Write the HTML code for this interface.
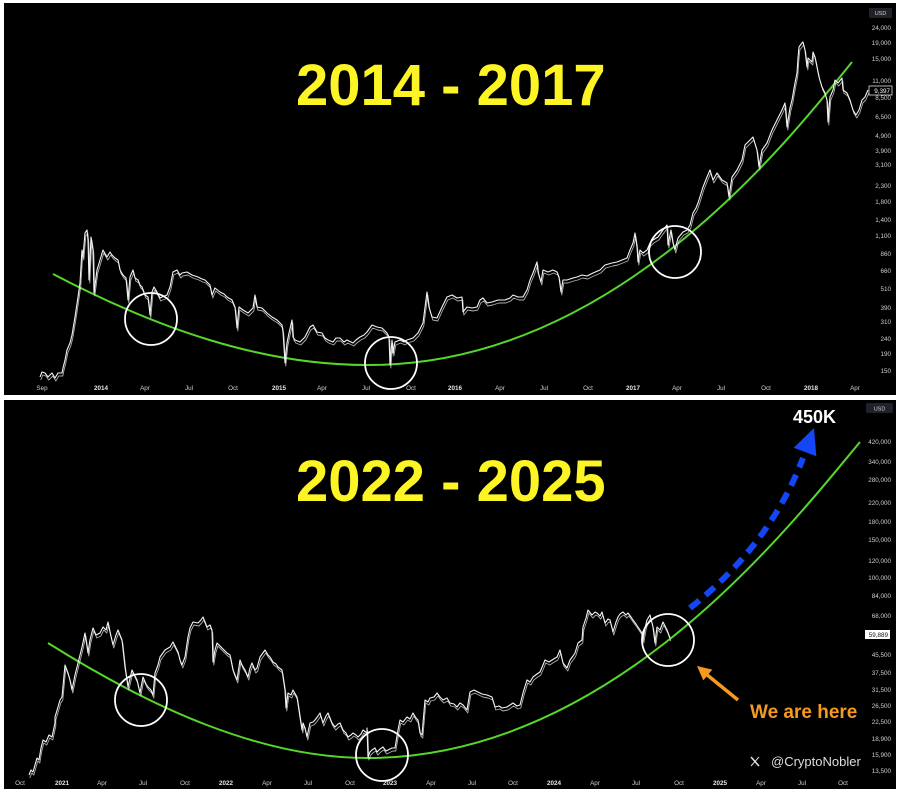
<!DOCTYPE html>
<html><head><meta charset="utf-8"><style>
html,body{margin:0;padding:0;background:#fff;}
svg{display:block;}
.ax{font-family:"Liberation Sans",sans-serif;font-size:6.3px;fill:#cfcfcf;}
.xb{font-weight:bold;fill:#e6e6e6;}
.ttl{font-family:"Liberation Sans",sans-serif;font-weight:bold;font-size:58px;fill:#fcf424;}
</style></head><body>
<svg width="900" height="796" viewBox="0 0 900 796" xmlns="http://www.w3.org/2000/svg" xmlns:xlink="http://www.w3.org/1999/xlink">
<defs>
<polyline id="p1" fill="none" stroke-linejoin="round" points="40,377 42,372 45,373 48,377 52,373 55,378 58,373 62,373 63,368 65,360 67,350 70,343 72,335 75,317 78,297 80,283 82,250 83,257 85,233 87,230 88,240 89,280 91,237 93,250 94,293 97,270 100,260 103,250 107,257 110,252 112,255 115,258 118,260 120,270 123,275 126,278 128,300 130,277 133,270 135,278 138,280 140,285 142,287 145,295 148,297 150,315 152,292 154,287 157,292 160,298 162,297 167,295 170,287 173,272 177,270 180,275 182,273 187,272 192,275 198,277 202,279 205,280 210,285 212,295 215,288 220,292 224,294 227,297 232,300 235,307 237,328 239,307 243,310 248,313 253,308 255,295 257,307 262,308 267,313 272,317 277,320 282,325 283,332 284,347 285,363 287,343 289,333 292,320 293,337 295,340 300,342 305,337 310,327 313,325 317,332 322,333 325,338 328,340 333,342 336,338 340,338 344,342 347,340 353,343 356,340 360,337 364,335 367,332 372,325 377,327 382,328 387,333 389,337 390,365 392,340 393,353 395,342 400,340 404,342 407,340 413,338 418,333 423,323 427,292 429,307 432,317 437,318 442,307 447,297 452,295 457,298 462,297 463,312 467,307 472,308 477,307 480,300 483,298 487,303 492,302 498,300 505,300 510,298 513,295 518,297 523,297 527,290 530,280 533,273 537,262 538,272 541,282 543,270 548,272 553,270 557,272 559,277 561,292 563,280 567,280 573,278 577,277 582,275 587,276 593,273 600,270 605,265 612,263 617,262 622,260 627,258 630,250 633,243 635,233 637,247 638,262 640,250 643,253 647,250 650,243 653,240 658,237 663,230 667,225 668,245 671,230 673,243 675,250 678,238 683,232 687,230 690,225 693,213 696,208 698,203 703,187 707,177 710,170 713,180 717,173 722,180 727,183 729,197 732,177 737,170 742,160 745,145 750,140 753,137 757,150 759,167 762,150 767,143 772,130 777,120 782,110 785,103 787,127 790,108 792,100 795,83 797,73 798,58 799,47 802,43 803,42 805,50 807,67 808,58 812,62 813,52 815,57 817,67 819,77 822,87 825,93 827,100 828,122 830,97 833,90 835,80 838,83 842,78 843,90 847,93 850,100 853,110 856,115 859,110 862,100 865,97 868,90"/>
<polyline id="p2" fill="none" stroke-linejoin="round" points="29,775 31,770 33,772 35,765 37,758 39,760 41,748 43,740 46,742 49,735 52,737 55,723 55,717 58,707 60,700 62,697 65,665 68,673 70,680 72,690 75,675 77,667 80,655 82,647 85,633 88,653 90,640 93,628 96,635 100,633 103,627 106,630 108,622 110,632 113,645 116,635 118,630 122,640 125,667 128,687 132,670 135,676 137,680 140,693 143,677 146,684 148,687 151,690 153,695 155,673 158,665 160,657 165,650 170,647 173,642 176,648 178,652 180,660 182,665 185,657 188,637 190,628 193,622 198,623 201,620 203,617 205,622 207,627 210,625 212,630 213,662 215,650 217,643 220,646 222,648 227,653 230,655 233,670 235,675 237,680 240,660 242,665 245,670 248,677 250,668 252,663 255,670 257,668 260,657 265,650 268,655 270,657 273,662 276,664 278,667 282,670 285,690 286,708 288,693 291,695 293,690 297,697 300,717 302,730 303,723 305,728 307,737 310,723 313,722 315,720 318,716 320,713 323,723 326,716 328,713 332,723 335,727 338,724 340,723 343,730 346,733 348,737 351,735 353,733 356,735 358,737 361,734 363,730 367,733 367,728 368,757 370,752 372,750 375,748 377,752 380,749 383,747 386,751 388,750 392,748 395,748 398,730 400,720 403,722 407,717 410,719 413,713 416,718 418,720 420,733 422,735 425,700 428,702 430,698 434,697 437,693 440,697 443,700 447,698 450,703 454,704 457,707 460,703 463,705 467,710 470,692 474,690 478,692 482,694 487,695 492,697 495,707 499,706 502,708 507,707 510,705 513,703 517,706 520,705 523,693 527,680 530,682 533,677 537,674 540,672 543,665 545,660 549,662 552,660 557,657 560,650 563,663 567,668 570,660 573,656 575,653 578,643 582,640 583,627 586,618 588,610 592,615 595,612 597,613 600,616 602,612 605,623 608,619 610,620 613,632 616,622 618,617 620,614 623,612 626,615 628,613 631,617 633,620 636,624 638,627 642,633 643,640 645,628 647,620 650,615 653,627 655,643 657,627 660,630 663,622 665,626 667,630 670,638"/>
</defs>
<rect x="0" y="0" width="900" height="796" fill="#fff"/>
<rect x="4" y="3" width="892" height="392" fill="#000"/>
<rect x="4" y="400" width="892" height="389" fill="#000"/>

<!-- TOP PANEL -->
<text class="ttl" x="296" y="105">2014 - 2017</text>
<path fill="none" stroke="#55d62b" stroke-width="2" d="M53,274 C158,329 262,365 367,365 C608,366 780,152 852,62"/>
<use xlink:href="#p1" stroke="#e8e8e8" stroke-width="0.9" opacity="0.75" transform="translate(0.8,3)"/>
<use xlink:href="#p1" stroke="#f4f4f4" stroke-width="1.1"/>
<circle cx="151" cy="319" r="26" fill="none" stroke="#fff" stroke-width="1.8"/>
<circle cx="391" cy="363" r="26" fill="none" stroke="#fff" stroke-width="1.8"/>
<circle cx="675" cy="252" r="26" fill="none" stroke="#fff" stroke-width="1.8"/>

<rect x="869" y="8" width="23" height="10" rx="1.5" fill="#1f2229"/>
<text class="ax" x="880.5" y="15" text-anchor="middle" style="font-size:5.5px">USD</text>
<g class="ax" text-anchor="end">
<text x="891" y="30">24,000</text>
<text x="891" y="45">19,000</text>
<text x="891" y="61">15,000</text>
<text x="891" y="83">11,000</text>
<text x="891" y="100">8,500</text>
<text x="891" y="119">6,500</text>
<text x="891" y="138">4,900</text>
<text x="891" y="153">3,900</text>
<text x="891" y="167">3,100</text>
<text x="891" y="188">2,300</text>
<text x="891" y="204">1,800</text>
<text x="891" y="222">1,400</text>
<text x="891" y="238">1,100</text>
<text x="891" y="256">860</text>
<text x="891" y="273">660</text>
<text x="891" y="291">510</text>
<text x="891" y="310">390</text>
<text x="891" y="324">310</text>
<text x="891" y="341">240</text>
<text x="891" y="356">190</text>
<text x="891" y="373">150</text>
</g>
<rect x="869" y="86" width="23" height="9" fill="#000" stroke="#e0e0e0" stroke-width="0.8"/>
<text class="ax" x="890" y="93" text-anchor="end" style="fill:#fff">9,397</text>
<g class="ax" text-anchor="middle">
<text x="42" y="390">Sep</text>
<text x="101" y="390" class="ax xb">2014</text>
<text x="145" y="390">Apr</text>
<text x="189" y="390">Jul</text>
<text x="233" y="390">Oct</text>
<text x="279" y="390" class="ax xb">2015</text>
<text x="322" y="390">Apr</text>
<text x="366" y="390">Jul</text>
<text x="411" y="390">Oct</text>
<text x="455" y="390" class="ax xb">2016</text>
<text x="500" y="390">Apr</text>
<text x="544" y="390">Jul</text>
<text x="588" y="390">Oct</text>
<text x="633" y="390" class="ax xb">2017</text>
<text x="677" y="390">Apr</text>
<text x="721" y="390">Jul</text>
<text x="766" y="390">Oct</text>
<text x="811" y="390" class="ax xb">2018</text>
<text x="855" y="390">Apr</text>
</g>

<!-- BOTTOM PANEL -->
<text class="ttl" x="296" y="501">2022 - 2025</text>
<path fill="none" stroke="#55d62b" stroke-width="2" d="M48,643 C153,709 262,758 367,758 C610,758 785,532 860,442"/>
<use xlink:href="#p2" stroke="#e8e8e8" stroke-width="0.9" opacity="0.75" transform="translate(0.8,3)"/>
<use xlink:href="#p2" stroke="#f4f4f4" stroke-width="1.1"/>
<circle cx="141" cy="700" r="26" fill="none" stroke="#fff" stroke-width="1.8"/>
<circle cx="382" cy="755" r="26" fill="none" stroke="#fff" stroke-width="1.8"/>
<circle cx="668" cy="640" r="26" fill="none" stroke="#fff" stroke-width="1.8"/>

<!-- blue dashed arrow -->
<path d="M690,608 Q770,545 803,458" fill="none" stroke="#1446f5" stroke-width="6" stroke-dasharray="12,8"/>
<polygon points="814,428 793.7,447.8 816.3,456.2" fill="#1446f5"/>
<text x="793" y="423" style="font-family:'Liberation Sans',sans-serif;font-weight:bold;font-size:18px;fill:#fff">450K</text>

<!-- orange arrow -->
<line x1="738" y1="700" x2="706" y2="674" stroke="#f5991f" stroke-width="3.5"/>
<polygon points="697,666 712.3,669.6 703.3,680.4" fill="#f5991f"/>
<text x="750" y="718" style="font-family:'Liberation Sans',sans-serif;font-weight:bold;font-size:19px;fill:#f5991f">We are here</text>

<!-- watermark -->
<line x1="751" y1="757" x2="759" y2="766" stroke="#ddd" stroke-width="1.6"/>
<line x1="759" y1="757" x2="751" y2="766" stroke="#ddd" stroke-width="1"/>
<text x="771" y="766" style="font-family:'Liberation Sans',sans-serif;font-size:13px;fill:#dedede">@CryptoNobler</text>

<rect x="866" y="403" width="27" height="10" rx="1.5" fill="#1f2229"/>
<text class="ax" x="879.5" y="410.5" text-anchor="middle" style="font-size:5.5px">USD</text>
<g class="ax" text-anchor="end">
<text x="891" y="444">420,000</text>
<text x="891" y="464">340,000</text>
<text x="891" y="482">280,000</text>
<text x="891" y="505">220,000</text>
<text x="891" y="524">180,000</text>
<text x="891" y="542">150,000</text>
<text x="891" y="563">120,000</text>
<text x="891" y="580">100,000</text>
<text x="891" y="598">84,000</text>
<text x="891" y="618">68,000</text>
<text x="891" y="657">45,500</text>
<text x="891" y="675">37,500</text>
<text x="891" y="692">31,500</text>
<text x="891" y="708">26,500</text>
<text x="891" y="724">22,500</text>
<text x="891" y="741">18,900</text>
<text x="891" y="757">15,900</text>
<text x="891" y="773">13,500</text>
</g>
<rect x="865" y="630" width="25" height="9" fill="#fff"/>
<text class="ax" x="888" y="637" text-anchor="end" style="fill:#111">59,889</text>
<g class="ax" text-anchor="middle">
<text x="20" y="785">Oct</text>
<text x="62" y="785" class="ax xb">2021</text>
<text x="102" y="785">Apr</text>
<text x="143" y="785">Jul</text>
<text x="185" y="785">Oct</text>
<text x="226" y="785" class="ax xb">2022</text>
<text x="267" y="785">Apr</text>
<text x="308" y="785">Jul</text>
<text x="350" y="785">Oct</text>
<text x="390" y="785" class="ax xb">2023</text>
<text x="431" y="785">Apr</text>
<text x="472" y="785">Jul</text>
<text x="513" y="785">Oct</text>
<text x="554" y="785" class="ax xb">2024</text>
<text x="595" y="785">Apr</text>
<text x="636" y="785">Jul</text>
<text x="679" y="785">Oct</text>
<text x="720" y="785" class="ax xb">2025</text>
<text x="761" y="785">Apr</text>
<text x="802" y="785">Jul</text>
<text x="843" y="785">Oct</text>
</g>
</svg>
</body></html>
